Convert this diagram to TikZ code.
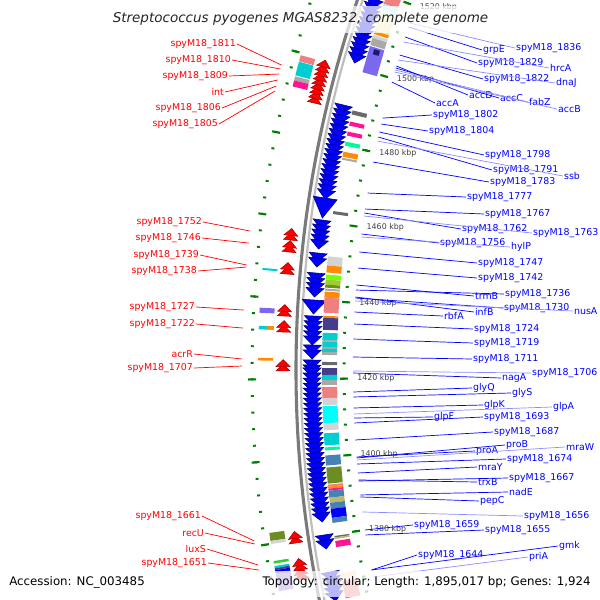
\documentclass[tikz,border=0pt]{standalone}
\usepackage{fontspec}
\setmainfont{DejaVu Sans}
\usetikzlibrary{calc}

\definecolor{genblue}{RGB}{0,0,255}
\definecolor{genred}{RGB}{255,0,0}
\definecolor{tickgreen}{RGB}{0,128,0}
\definecolor{cogsalmon}{RGB}{240,128,128}
\definecolor{cogpalecyan}{RGB}{175,238,238}
\definecolor{cogbeige}{RGB}{238,232,170}
\definecolor{cogorange}{RGB}{255,140,0}
\definecolor{coglightgray}{RGB}{211,211,211}
\definecolor{coggray}{RGB}{169,169,169}
\definecolor{cogdimgray}{RGB}{105,105,105}
\definecolor{cogmslate}{RGB}{123,104,238}
\definecolor{cognavy}{RGB}{25,25,112}
\definecolor{cogdeeppink}{RGB}{255,20,147}
\definecolor{cogspring}{RGB}{0,250,154}
\definecolor{cogdarkslate}{RGB}{72,61,139}
\definecolor{cogturq}{RGB}{0,206,209}
\definecolor{cogcyan}{RGB}{0,255,255}
\definecolor{coglawn}{RGB}{124,252,0}
\definecolor{cogyellowgreen}{RGB}{154,205,50}
\definecolor{cogolive}{RGB}{107,142,35}
\definecolor{cogsteel}{RGB}{70,130,180}
\definecolor{cogkhaki}{RGB}{189,183,107}
\definecolor{cogblue}{RGB}{0,0,255}
\definecolor{cogpeach}{RGB}{255,218,185}
\definecolor{coglime}{RGB}{50,205,50}
\definecolor{coglavender}{RGB}{147,112,219}

\newcommand{\lblfont}{\fontsize{6.7}{8}\selectfont}
\newcommand{\kbpfont}{\fontsize{5.6}{7}\selectfont}

\begin{document}
\begin{tikzpicture}[
  x=0.025cm, y=-0.025cm,
  declare function={ya(\p,\q)=180-asin((\p-370)/\q); kang(\p)=0.2*\p-104.45;},
  fwdgene/.style={fill=genblue, draw=genblue!45!black, line width=0.4pt},
  revgene/.style={fill=genred, draw=genred!60!black, line width=0.35pt},
  rlbl/.style={font=\lblfont, text=genblue, anchor=west, inner sep=0.6pt},
  llbl/.style={font=\lblfont, text=genred, anchor=east, inner sep=0.6pt},
  rline/.style={draw=genblue, line width=0.5pt},
  rfaint/.style={draw=genblue!45, line width=0.5pt},
  lline/.style={draw=genred, line width=0.5pt},
  kbplbl/.style={font=\kbpfont, text=black!75, anchor=west, inner sep=0pt},
  tickdot/.style={draw=tickgreen, line width=1.4pt},
  tickdash/.style={draw=tickgreen, line width=1.5pt}
]
\useasboundingbox (0,0) rectangle (600,600);
\clip (0,0) rectangle (600,600);
\coordinate (ctr) at (1441,370);

\begin{scope}[shift={(ctr)}]
% backbone
\draw[black!25, line width=1.6pt] (160:1140) arc[start angle=160, end angle=200, radius=1140];
\draw[black!52, line width=2.2pt] (160:1145) arc[start angle=160, end angle=200, radius=1145];

% forward genes (inside)
\foreach \ys/\ye in {-6/57,105/190,220/240,253/262,273/292,316/336,345/350,360/360,368/515,535/544,572/592}{
  \pgfmathsetmacro\yn{\ys+5}
  \foreach \y in {\ys,\yn,...,\ye}{
    \pgfmathsetmacro\a{ya(\y,1129)}
    \pgfmathsetmacro\b{ya(\y+9,1129)}
    \filldraw[fwdgene] (\a:1138) -- (\a:1120) -- (\b:1129) -- cycle;
  }
}
\foreach \ys/\ye in {198/218,300/314}{
  \pgfmathsetmacro\a{ya(\ys,1129)}
  \pgfmathsetmacro\b{ya(\ye,1129)}
  \filldraw[fwdgene] (\a:1141) -- (\a:1117) -- (\b:1129) -- cycle;
}

% reverse genes (outside)
\foreach \ys/\ye in {103/67,240/240,252/252,274/274,316/316,332/332,371/364,543/537,579/564}{
  \pgfmathsetmacro\yn{\ys-4.5}
  \foreach \y in {\ys,\yn,...,\ye}{
    \pgfmathsetmacro\a{ya(\y,1158)}
    \pgfmathsetmacro\b{ya(\y-7,1158)}
    \filldraw[revgene] (\a:1151) -- (\a:1165) -- (\b:1158) -- cycle;
  }
}

% COG boxes, inside
\foreach \ys/\ye/\c in {-4/6/cogsalmon,6/15/cogpalecyan,15/33/cogbeige,33/36/cogorange,
  37/40/coglightgray,40/47/coggray,48/74/cogmslate,112/116/cogdimgray,123/127/cogdeeppink,
  133/137/cogdeeppink,143/147/cogspring,153/158/cogorange,159/161/coggray,212/215/cogdimgray,
  257/266/coglightgray,266/273/cogorange,275/280/coglawn,280/285/cogyellowgreen,285/288/cogolive,
  289/291/coggray,292/298/cogorange,298/313/cogsalmon,316/318/cogorange,318/330/cogdarkslate,
  333/340/cogturq,340/341.5/coggray,341.5/347/cogturq,347/349/coggray,349/352/cogturq,352/355/coggray,
  362/365/cogdimgray,368/375/cogdarkslate,375/380/cogturq,380/385/coggray,387/398/cogsalmon,
  398/405/coglightgray,406/423/cogcyan,423/430/coglightgray,433/445/cogturq,447/450/cogspring,
  455/465/cogsteel,467/483/cogolive,484/486/cogsalmon,486/488/cogorange,488/490/cogdeeppink,
  490/497/cogsteel,497/502/cogkhaki,502/508/cogsteel,508/517/cogblue,517/522/cogsteel,
  535/536.5/cogdimgray,536.5/538/cogkhaki,540/546/cogdeeppink,572/577/cogpeach,580/597/cogsalmon}{
  \pgfmathsetmacro\a{ya(\ys,1112)}
  \pgfmathsetmacro\b{ya(\ye,1112)}
  \fill[\c] (\a:1104) -- (\a:1119) -- (\b:1119) -- (\b:1104) -- cycle;
}
\fill[cognavy] ({ya(50,1111)}:1108) -- ({ya(50,1111)}:1114) -- ({ya(55,1111)}:1114) -- ({ya(55,1111)}:1108) -- cycle;

% COG boxes, outside
\foreach \ys/\ye/\c in {57/63/cogsalmon,63.5/77/cogturq,78/82/coggray,82/88/cogdeeppink,
  268.5/270.5/cogturq,308/313/cogmslate,326/329.5/cogturq,358/360.5/cogorange,
  532/540/cogolive,540/543/coglightgray,560/562.5/coglime,565/567/cogturq,
  567/569/cogdarkslate,569/572/cogblue,572/590/coglavender}{
  \pgfmathsetmacro\a{ya(\ys,1176)}
  \pgfmathsetmacro\b{ya(\ye,1176)}
  \fill[\c] (\a:1168) -- (\a:1183) -- (\b:1183) -- (\b:1168) -- cycle;
}
\fill[cogorange] ({ya(326,1172)}:1168) -- ({ya(326,1172)}:1175) -- ({ya(329.5,1172)}:1175) -- ({ya(329.5,1172)}:1168) -- cycle;

% rulers
\foreach \k in {1364,1368,...,1524}{
  \pgfmathsetmacro\a{kang(\k)}
  \draw[tickdot] (\a:1095.5) -- (\a:1098.5);
  \draw[tickdot] (\a:1187.5) -- (\a:1190.5);
}
\foreach \k in {1380,1400,...,1520}{
  \pgfmathsetmacro\a{kang(\k)}
  \draw[tickdash] (\a:1093) -- (\a:1101);
  \draw[tickdash] (\a:1185) -- (\a:1193);
  \node[kbplbl] (kb\k) at (\a:1084) {\k\ kbp};
}
\end{scope}

% labels, forward strand
\foreach \yg/\x/\yl/\t/\s [count=\i] in {23/515/48/spyM18\_1836/rfaint,
  27/482/50/grpE/rline, 37/477/63/spyM18\_1829/rline, 42/549/68/hrcA/rfaint,
  55/483/79/spyM18\_1822/rline, 60/555/83/dnaJ/rfaint, 66/468/95/accD/rline,
  68/499/98/accC/rline, 70/528/102/fabZ/rfaint, 72/557/109/accB/rfaint,
  82/435/103/accA/rline, 118/432/115/spyM18\_1802/rline, 124/428/131/spyM18\_1804/rline,
  132/484/155/spyM18\_1798/rline, 137/492/170/spyM18\_1791/rline, 141/563/176/ssb/rfaint,
  162/489/182/spyM18\_1783/rline, 193/466/197/spyM18\_1777/rline, 209/484/214/spyM18\_1767/rline,
  213/461/229/spyM18\_1762/rline, 216/532/233/spyM18\_1763/rfaint, 234/439/243/spyM18\_1756/rline,
  237/510/247/hylP/rfaint, 252/477/263/spyM18\_1747/rline, 268/477/278/spyM18\_1742/rline,
  285/474/296/trmB/rline, 290/504/294/spyM18\_1736/rline, 297/474/312/infB/rline,
  298/503/308/spyM18\_1730/rline, 301/573/311/nusA/rfaint, 312/443/316/rbfA/rline,
  324/473/329/spyM18\_1724/rline, 339/473/343/spyM18\_1719/rline, 357/472/359/spyM18\_1711/rline,
  371/531/373/spyM18\_1706/rfaint, 373/501/378/nagA/rline, 392/472/388/glyQ/rline,
  397/511/393/glyS/rline, 408/483/405/glpK/rline, 414/552/407/glpA/rfaint,
  418/433/417/glpF/rline, 423/483/417/spyM18\_1693/rline, 440/493/432/spyM18\_1687/rline,
  457/475/451/proA/rline, 458/505/445/proB/rline, 460/565/447/mraW/rfaint,
  464/506/459/spyM18\_1674/rline, 473/477/467/mraY/rline, 480/477/482/trxB/rline,
  481/508/478/spyM18\_1667/rline, 495/508/492/nadE/rline, 497/479/501/pepC/rline,
  512/523/516/spyM18\_1656/rfaint, 530/413/525/spyM18\_1659/rline, 535/484/530/spyM18\_1655/rline,
  570/558/546/gmk/rline, 570/417/555/spyM18\_1644/rline, 577/528/557/priA/rfaint}{
  \pgfmathsetmacro\a{ya(\yg,1088)}
  \coordinate (rg\i) at ($(ctr)+(\a:1088)$);
  \node[rlbl] (rl\i) at (\x,\yl) {\t};
  \draw[\s] (rg\i) -- (rl\i.west);
}

% labels, reverse strand
\foreach \yg/\x/\yl/\t [count=\i] in {65/237/44/spyM18\_1811, 69/232/60/spyM18\_1810,
  74/229/76/spyM18\_1809, 80/225/92/int, 86/222/108/spyM18\_1806, 91/219/124/spyM18\_1805,
  231/203/222/spyM18\_1752, 243/202/238/spyM18\_1746, 265/200/255/spyM18\_1739,
  267/198/271/spyM18\_1738, 310/196/307/spyM18\_1727, 328/196/324/spyM18\_1722,
  359/194/354/acrR, 366/194/368/spyM18\_1707, 541/202/516/spyM18\_1661,
  544/205/533/recU, 565/207/549/luxS, 570/208/563/spyM18\_1651}{
  \pgfmathsetmacro\a{ya(\yg,1199)}
  \coordinate (lg\i) at ($(ctr)+(\a:1199)$);
  \node[llbl] (ll\i) at (\x,\yl) {\t};
  \draw[lline] (lg\i) -- (ll\i.east);
}

% title and footer
\fill[white, opacity=0.72] (0,6) rectangle (600,33);
\fill[white, opacity=0.72] (0,571) rectangle (600,597);
\node[font=\fontsize{9.6}{11}\selectfont\itshape, text=black!85] (title) at (300.5,19)
  {Streptococcus pyogenes MGAS8232, complete genome};
\node[font=\fontsize{8.4}{10}\selectfont, anchor=west, inner sep=0pt] (acc) at (9,582) {Accession: NC\_003485};
\node[font=\fontsize{8.4}{10}\selectfont, anchor=east, inner sep=0pt] (topo) at (591,582)
  {Topology: circular; Length: 1,895,017 bp; Genes: 1,924};
\end{tikzpicture}
\end{document}
